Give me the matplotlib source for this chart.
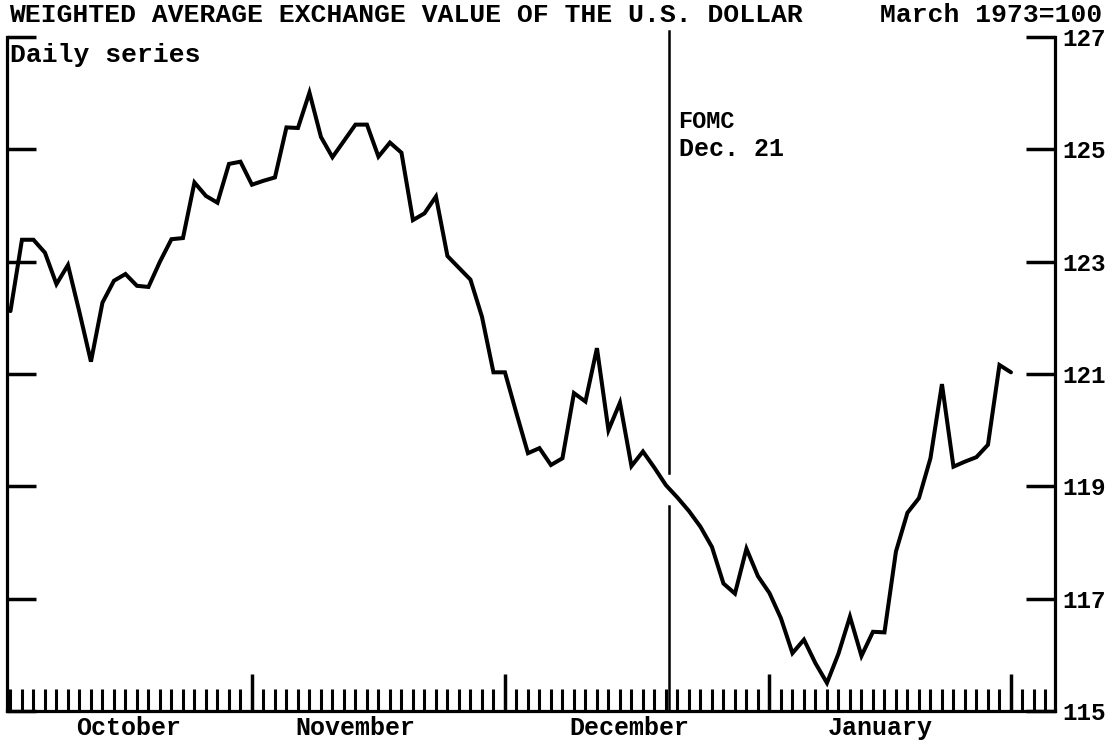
import numpy as np
import matplotlib.pyplot as plt

plt.rcParams["font.family"] = ["Liberation Mono", "DejaVu Sans Mono"]
plt.rcParams["font.weight"] = "bold"

# Daily series, one value per weekday starting Oct 1 (holidays interpolated)
index_value = [
    122.12, 123.39, 123.39, 123.16, 122.60, 122.94, 122.10, 121.22, 122.27, 122.66,
    122.78, 122.57, 122.55, 123.00, 123.40, 123.42, 124.41, 124.17, 124.05, 124.74,
    124.78, 124.37, 124.44, 124.50, 125.39, 125.38, 126.01, 125.22, 124.86, 125.15,
    125.44, 125.44, 124.87, 125.12, 124.94, 123.74, 123.86, 124.16, 123.10, 122.89,
    122.68, 122.02, 121.03, 121.03, 120.30, 119.59, 119.68, 119.38, 119.50, 120.66,
    120.51, 121.46, 120.00, 120.49, 119.36, 119.62, 119.33, 119.02, 118.80, 118.56,
    118.28, 117.92, 117.27, 117.09, 117.89, 117.40, 117.10, 116.65, 116.03, 116.27,
    115.85, 115.50, 116.02, 116.68, 115.98, 116.41, 116.40, 117.84, 118.53, 118.79,
    119.50, 120.82, 119.35, 119.44, 119.52, 119.74, 121.16, 121.03,
]
months = ["October", "November", "December", "January"]
month_start = [21, 43, 66, 87]         # weekday index of first day of Nov, Dec, Jan, Feb
n_weekdays = 91                        # weekday ticks shown on the axis
fomc_day = 57.3                        # Dec. 21
y_ticks = [115, 117, 119, 121, 123, 125, 127]

# where the month names sit along the axis (weekday units)
label_at = [10.3, 30.0, 53.8, 75.6]

days = np.arange(len(index_value))

fig = plt.figure(figsize=(11.13, 7.44), dpi=100)
ax = fig.add_axes([7 / 1113, 33 / 744, 1048 / 1113, 674 / 744])

ax.plot(days, index_value, color="black", lw=2.9, solid_joinstyle="miter",
        solid_capstyle="round")

# FOMC marker line, broken where the series crosses it
v_at_fomc = np.interp(fomc_day, days, index_value)
ax.plot([fomc_day, fomc_day], [127.1, v_at_fomc + 0.28], color="black", lw=1.8,
        clip_on=False)
ax.plot([fomc_day, fomc_day], [v_at_fomc - 0.3, 115], color="black", lw=1.8,
        clip_on=False)
ax.text(fomc_day + 0.8, 125.5, "FOMC", fontsize=17, va="center", ha="left")
ax.text(fomc_day + 0.8, 125.0, "Dec. 21", fontsize=18, va="center", ha="left")

ax.set_xlim(-0.3, 90.83)
ax.set_ylim(115, 127)

for side in ["left", "right", "bottom"]:
    ax.spines[side].set_linewidth(2.3)
ax.spines["top"].set_visible(False)

ax.set_yticks(y_ticks)
ax.tick_params(axis="y", direction="in", left=True, right=True, labelleft=False,
               labelright=True, length=21, width=2.5, pad=5, labelsize=17.5)

minor_days = [d for d in range(n_weekdays) if d not in month_start]
ax.set_xticks(month_start)
ax.set_xticks(minor_days, minor=True)
ax.set_xticklabels([])
ax.tick_params(axis="x", which="major", direction="in", length=26.5, width=2.5)
ax.tick_params(axis="x", which="minor", direction="in", length=15.5, width=2.2)

for name, x in zip(months, label_at):
    ax.text(x, -0.025, name, transform=ax.get_xaxis_transform(),
            ha="center", va="center", fontsize=18)

fig.text(9 / 1113, 1 - 15 / 744, "WEIGHTED AVERAGE EXCHANGE VALUE OF THE U.S. DOLLAR",
         ha="left", va="center", fontsize=19)
fig.text(1102 / 1113, 1 - 15 / 744, "March 1973=100", ha="right", va="center",
         fontsize=19)
fig.text(10 / 1113, 1 - 55 / 744, "Daily series", ha="left", va="center", fontsize=19)

fig.savefig("out.png", dpi=100)
